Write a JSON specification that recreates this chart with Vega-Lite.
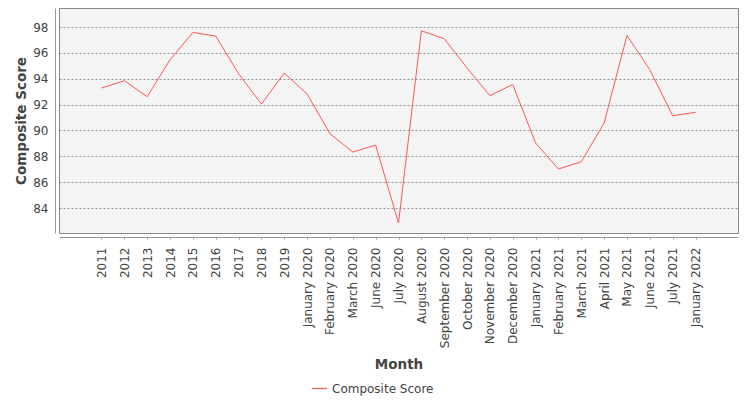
{
  "$schema": "https://vega.github.io/schema/vega-lite/v6.json",
  "autosize": {"type": "none"},
  "padding": {"left": 59, "top": 8, "right": 12, "bottom": 167},
  "width": 679,
  "height": 225,
  "background": "white",
  "config": {
    "font": "DejaVu Sans",
    "view": {"fill": "#f4f4f4", "stroke": "#888888", "strokeWidth": 1}
  },
  "data": {
    "values": [
      {"Month": "2011", "Score": 93.28},
      {"Month": "2012", "Score": 93.85},
      {"Month": "2013", "Score": 92.61},
      {"Month": "2014", "Score": 95.47},
      {"Month": "2015", "Score": 97.58},
      {"Month": "2016", "Score": 97.30},
      {"Month": "2017", "Score": 94.39},
      {"Month": "2018", "Score": 92.04},
      {"Month": "2019", "Score": 94.44},
      {"Month": "January 2020", "Score": 92.82},
      {"Month": "February 2020", "Score": 89.75},
      {"Month": "March 2020", "Score": 88.33},
      {"Month": "June 2020", "Score": 88.87},
      {"Month": "July 2020", "Score": 82.84},
      {"Month": "August 2020", "Score": 97.71},
      {"Month": "September 2020", "Score": 97.10},
      {"Month": "October 2020", "Score": 94.83},
      {"Month": "November 2020", "Score": 92.69},
      {"Month": "December 2020", "Score": 93.56},
      {"Month": "January 2021", "Score": 89.03},
      {"Month": "February 2021", "Score": 87.02},
      {"Month": "March 2021", "Score": 87.58},
      {"Month": "April 2021", "Score": 90.58},
      {"Month": "May 2021", "Score": 97.35},
      {"Month": "June 2021", "Score": 94.70},
      {"Month": "July 2021", "Score": 91.14},
      {"Month": "January 2022", "Score": 91.40}
    ]
  },
  "mark": {"type": "line", "strokeWidth": 1, "clip": true},
  "encoding": {
    "x": {
      "field": "Month",
      "type": "ordinal",
      "sort": null,
      "scale": {
        "type": "point",
        "padding": 0.86,
        "domain": [" ", "2011", "2012", "2013", "2014", "2015", "2016", "2017", "2018", "2019", "January 2020", "February 2020", "March 2020", "June 2020", "July 2020", "August 2020", "September 2020", "October 2020", "November 2020", "December 2020", "January 2021", "February 2021", "March 2021", "April 2021", "May 2021", "June 2021", "July 2021", "January 2022", "  "]
      },
      "axis": {
        "title": "Month",
        "titleFont": "DejaVu Sans",
        "titleFontSize": 13.5,
        "titleFontWeight": "bold",
        "titleColor": "#444444",
        "titlePadding": 10,
        "labelAngle": -90,
        "labelFontSize": 12,
        "labelColor": "#444444",
        "labelPadding": 8,
        "offset": 4,
        "domainColor": "#999999",
        "tickColor": "#999999",
        "tickSize": 2,
        "tickOpacity": {"condition": {"test": "trim(datum.value) === ''", "value": 0}, "value": 1},
        "grid": false
      }
    },
    "y": {
      "field": "Score",
      "type": "quantitative",
      "scale": {"domain": [82.07, 99.47], "nice": false, "zero": false},
      "axis": {
        "title": "Composite Score",
        "titleFont": "DejaVu Sans",
        "titleFontSize": 13.5,
        "titleFontWeight": "bold",
        "titleColor": "#444444",
        "titlePadding": 4,
        "values": [84, 86, 88, 90, 92, 94, 96, 98],
        "labelFontSize": 12,
        "labelColor": "#444444",
        "labelPadding": 7,
        "ticks": false,
        "offset": 4,
        "domainColor": "#999999",
        "grid": true,
        "gridColor": "#777777",
        "gridDash": [2, 2],
        "gridWidth": 0.8
      }
    },
    "color": {
      "datum": "Composite Score",
      "type": "nominal",
      "scale": {"range": ["#ff5555"]},
      "legend": {
        "title": null,
        "orient": "none",
        "legendX": 252,
        "legendY": 372,
        "padding": 0,
        "symbolType": "stroke",
        "symbolSize": 225,
        "symbolStrokeWidth": 1.2,
        "labelFontSize": 12,
        "labelColor": "#444444",
        "labelOffset": 4
      }
    }
  }
}
